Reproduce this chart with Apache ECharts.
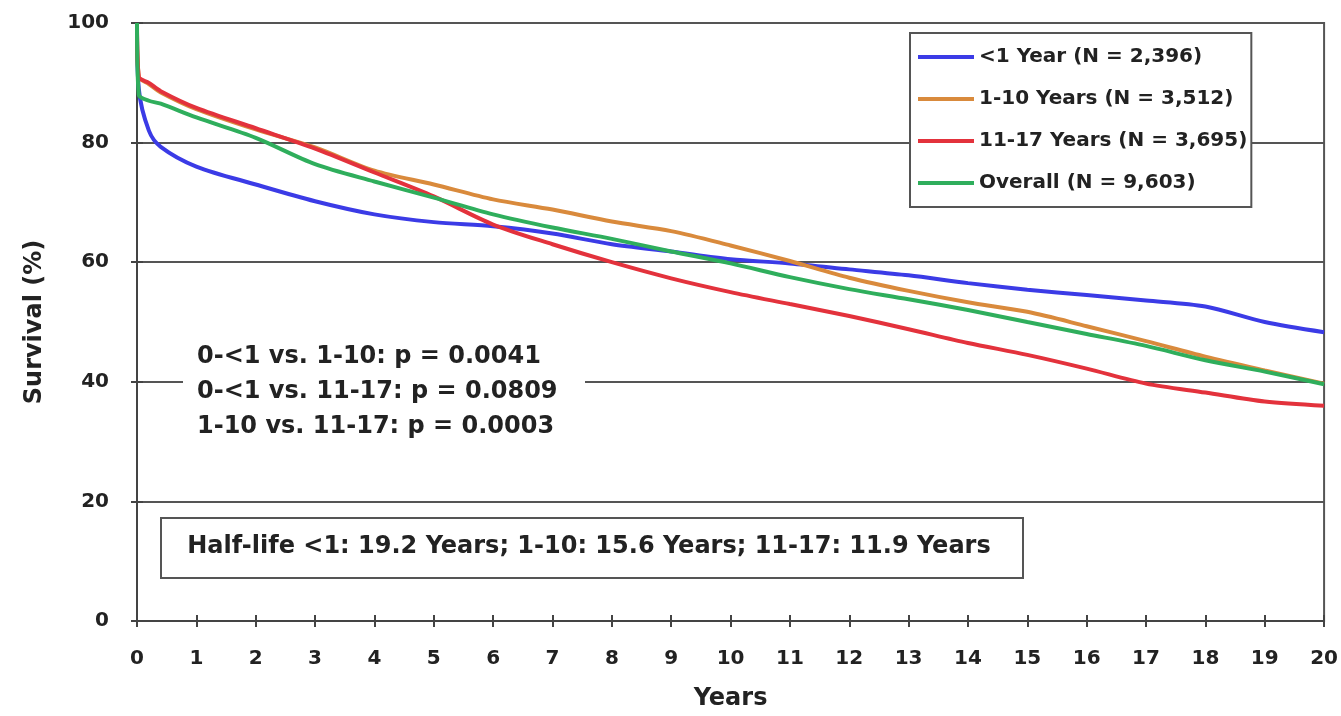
<!DOCTYPE html>
<html>
<head>
<meta charset="utf-8">
<script src="https://cdn.jsdelivr.net/npm/echarts@6/dist/echarts.min.js"></script>
<style>
html,body{margin:0;padding:0;background:#fff;}
#chart{width:1341px;height:716px;}
</style>
</head>
<body>
<div id="chart"></div>
<script>
// ---- data ----
var years = [0, 0.03, 0.2, 0.4, 1, 2, 3, 4, 5, 6, 7, 8, 9, 10, 11, 12, 13, 14, 15, 16, 17, 18, 19, 20];
var seriesNames = ['<1 Year (N = 2,396)', '1-10 Years (N = 3,512)', '11-17 Years (N = 3,695)', 'Overall (N = 9,603)'];
var under1 =   [100, 89, 82, 79.3, 76, 73, 70.2, 68, 66.7, 66, 64.8, 63, 61.8, 60.5, 59.8, 58.8, 57.8, 56.5, 55.4, 54.5, 53.6, 52.6, 50, 48.3];
var age1to10 = [100, 91, 89.8, 88.4, 85.6, 82.2, 79.2, 75.3, 73, 70.5, 68.8, 66.8, 65.2, 62.8, 60.2, 57.4, 55.2, 53.3, 51.7, 49.3, 46.8, 44.2, 41.9, 39.7];
var age11to17 = [100, 91, 90, 88.6, 85.8, 82.4, 79, 75, 71, 66.3, 63, 60, 57.3, 55, 53, 51, 48.8, 46.5, 44.5, 42.2, 39.7, 38.2, 36.7, 36];
var overall =  [100, 88, 87, 86.5, 84.2, 80.8, 76.4, 73.5, 70.8, 68, 65.8, 63.9, 61.8, 59.8, 57.5, 55.5, 53.8, 52, 50, 48, 46, 43.6, 41.7, 39.6];
var pValueLines = ['0-<1 vs. 1-10: p = 0.0041', '0-<1 vs. 11-17: p = 0.0809', '1-10 vs. 11-17: p = 0.0003'];
var halfLifeText = 'Half-life <1: 19.2 Years; 1-10: 15.6 Years; 11-17: 11.9 Years';
var xTickLabels = ['0','1','2','3','4','5','6','7','8','9','10','11','12','13','14','15','16','17','18','19','20'];

var colors = ['#3b3be6', '#d98a3c', '#e3323c', '#2fae5c'];
var FONT = 'DejaVu Sans';

function pairs(vals){ return years.map(function(t,i){ return [t, vals[i]]; }); }

var chart = echarts.init(document.getElementById('chart'), null, {renderer:'canvas'});
var allVals = [under1, age1to10, age11to17, overall];

var option = {
  animation: false,
  backgroundColor: '#fff',
  grid: {left: 137, right: 16, top: 23, bottom: 93, show: true, borderColor: '#555', borderWidth: 2, backgroundColor: 'transparent'},
  xAxis: [{
    type: 'value', min: 0, max: 20, interval: 1,
    name: 'Years', nameLocation: 'middle', nameGap: 66,
    nameTextStyle: {fontFamily: FONT, fontWeight: 'bold', fontSize: 24, color: '#222'},
    axisLine: {show: true, lineStyle: {color: '#444', width: 2}},
    axisTick: {show: true, length: 6, lineStyle: {color: '#444', width: 2}},
    axisLabel: {fontFamily: FONT, fontWeight: 'bold', fontSize: 20, color: '#222', margin: 28,
      formatter: function(v){ return xTickLabels[Math.round(v)]; }},
    splitLine: {show: false}
  }, {
    type: 'value', min: 0, max: 20, interval: 1, position: 'bottom',
    axisLine: {show: false},
    axisTick: {show: true, inside: true, length: 6, lineStyle: {color: '#444', width: 2}},
    axisLabel: {show: false}, splitLine: {show: false}
  }],
  yAxis: [{
    type: 'value', min: 0, max: 100, interval: 20,
    name: 'Survival (%)', nameLocation: 'middle', nameGap: 90, nameRotate: 90,
    nameTextStyle: {fontFamily: FONT, fontWeight: 'bold', fontSize: 24, color: '#222'},
    axisLine: {show: true, lineStyle: {color: '#444', width: 2}},
    axisTick: {show: true, length: 6, lineStyle: {color: '#444', width: 2}},
    axisLabel: {fontFamily: FONT, fontWeight: 'bold', fontSize: 20, color: '#222', margin: 28},
    splitLine: {show: true, lineStyle: {color: '#555', width: 2}}
  }, {
    type: 'value', min: 0, max: 100, interval: 20, position: 'left',
    axisLine: {show: false},
    axisTick: {show: true, inside: true, length: 6, lineStyle: {color: '#444', width: 2}},
    axisLabel: {show: false}, splitLine: {show: false}
  }],
  legend: {
    orient: 'vertical', left: 910, top: 33,
    backgroundColor: '#fff', borderColor: '#555', borderWidth: 2,
    padding: [13, 4, 13, 8], itemGap: 20,
    itemWidth: 56, itemHeight: 4, itemTextGap: 2, icon: 'rect',
    textStyle: {fontFamily: FONT, fontWeight: 'bold', fontSize: 20, color: '#222', lineHeight: 22},
    data: seriesNames
  },
  series: seriesNames.map(function(n, i){
    return {
      name: n, type: 'line', smooth: 0.3, showSymbol: false,
      data: pairs(allVals[i]),
      lineStyle: {width: 4, color: colors[i]},
      itemStyle: {color: colors[i]},
      z: 3
    };
  }),
  graphic: [
    {type: 'rect', left: 183, top: 340, shape: {width: 402, height: 104}, style: {fill: '#fff'}, z: 50},
    {type: 'text', x: 197, y: 357, style: {text: pValueLines[0], font: 'bold 24px "DejaVu Sans"', fill: '#222', verticalAlign: 'middle'}, z: 51},
    {type: 'text', x: 197, y: 392, style: {text: pValueLines[1], font: 'bold 24px "DejaVu Sans"', fill: '#222', verticalAlign: 'middle'}, z: 51},
    {type: 'text', x: 197, y: 427, style: {text: pValueLines[2], font: 'bold 24px "DejaVu Sans"', fill: '#222', verticalAlign: 'middle'}, z: 51},
    {type: 'rect', left: 160, top: 517, shape: {width: 862, height: 60}, style: {fill: '#fff', stroke: '#555', lineWidth: 2}, z: 50},
    {type: 'text', x: 589, y: 547, style: {text: halfLifeText, font: 'bold 24px "DejaVu Sans"', fill: '#222', align: 'center', verticalAlign: 'middle'}, z: 51}
  ]
};
chart.setOption(option);
</script>
</body>
</html>
